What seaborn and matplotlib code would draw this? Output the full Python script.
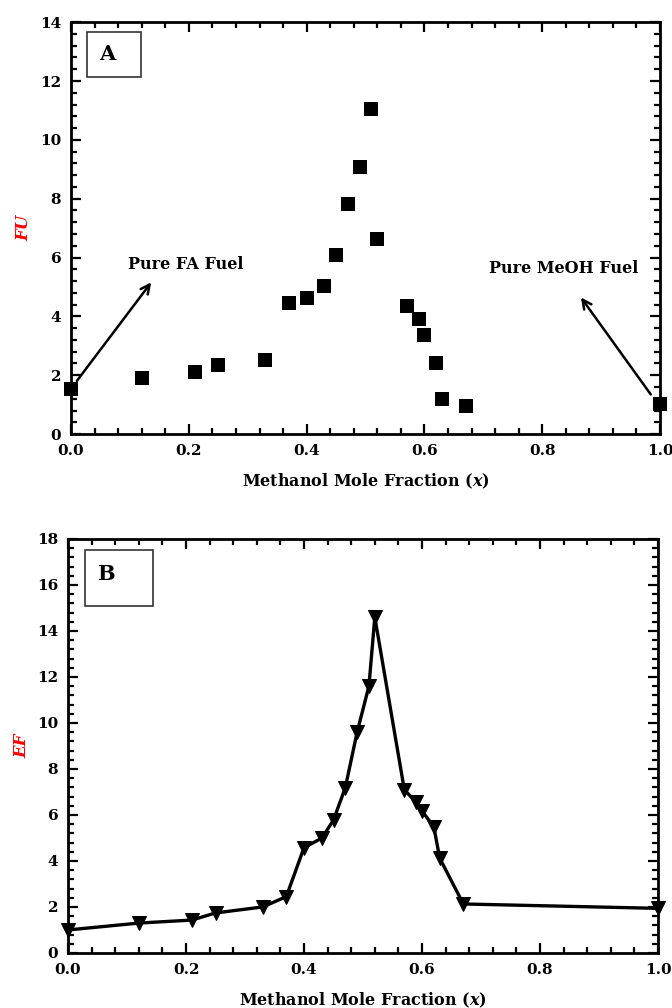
import matplotlib
matplotlib.use("Agg")
import matplotlib.pyplot as plt
import seaborn as sns
import pandas as pd
import numpy as np
from matplotlib.ticker import MultipleLocator, FormatStrFormatter
from matplotlib.patches import Rectangle

# ---- data ----
fu_x = [0.0, 0.12, 0.21, 0.25, 0.33, 0.37, 0.40, 0.43, 0.45, 0.47, 0.49, 0.51,
        0.52, 0.57, 0.59, 0.60, 0.62, 0.63, 0.67, 1.0]
fu_y = [1.53, 1.90, 2.11, 2.34, 2.51, 4.45, 4.62, 5.03, 6.08, 7.81, 9.07, 11.04,
        6.63, 4.35, 3.91, 3.36, 2.41, 1.19, 0.95, 1.02]

ef_x = [0.0, 0.12, 0.21, 0.25, 0.33, 0.37, 0.40, 0.43, 0.45, 0.47, 0.49, 0.51,
        0.52, 0.57, 0.59, 0.60, 0.62, 0.63, 0.67, 1.0]
ef_y = [1.0, 1.3, 1.43, 1.74, 2.0, 2.45, 4.58, 4.99, 5.78, 7.19, 9.6, 11.6,
        14.6, 7.1, 6.55, 6.17, 5.49, 4.12, 2.13, 1.94]

x_ticks = [0.0, 0.2, 0.4, 0.6, 0.8, 1.0]
fu_ticks = [0, 2, 4, 6, 8, 10, 12, 14]
ef_ticks = [0, 2, 4, 6, 8, 10, 12, 14, 16, 18]

sns.set_theme(style="ticks")
plt.rcParams['font.family'] = ['DejaVu Serif']
plt.rcParams['font.weight'] = 'bold'
plt.rcParams['text.color'] = 'black'
plt.rcParams['axes.labelcolor'] = 'black'
plt.rcParams['xtick.color'] = 'black'
plt.rcParams['ytick.color'] = 'black'
plt.rcParams['mathtext.fontset'] = 'custom'
plt.rcParams['mathtext.it'] = 'DejaVu Serif:italic:bold'
plt.rcParams['mathtext.rm'] = 'DejaVu Serif:bold'

fig = plt.figure(figsize=(6.72, 10.08), dpi=100)
ax1 = fig.add_axes([0.1057, 0.5694, 0.8765, 0.4086])
ax2 = fig.add_axes([0.1012, 0.0546, 0.8780, 0.4107])

df1 = pd.DataFrame({"x": fu_x, "y": fu_y})
df2 = pd.DataFrame({"x": ef_x, "y": ef_y})

sns.scatterplot(data=df1, x="x", y="y", ax=ax1, marker="s", s=110, color="black",
                edgecolor="black", linewidth=0, zorder=5, clip_on=False)
sns.lineplot(data=df2, x="x", y="y", ax=ax2, marker="v", markersize=10, color="black",
             linewidth=2.4, markeredgecolor="black", zorder=5, clip_on=False)

for ax, ticks, ymax, lab, lx in [(ax1, fu_ticks, 14, "FU", -0.066), (ax2, ef_ticks, 18, "EF", -0.064)]:
    ax.set_xlim(0, 1.0)
    ax.set_ylim(0, ymax)
    ax.set_xticks(x_ticks)
    ax.set_yticks(ticks)
    ax.xaxis.set_major_formatter(FormatStrFormatter("%.1f"))
    ax.xaxis.set_minor_locator(MultipleLocator(0.04))
    ax.yaxis.set_minor_locator(MultipleLocator(0.4))
    ax.tick_params(which="both", direction="in", top=True, right=True, width=1.6,
                   color="black", labelcolor="black")
    ax.tick_params(which="major", length=7, labelsize=11, pad=7)
    ax.tick_params(which="minor", length=4.5)
    for lbl in ax.get_xticklabels() + ax.get_yticklabels():
        lbl.set_fontweight("bold")
    for sp in ax.spines.values():
        sp.set_linewidth(2)
        sp.set_color("black")
    ax.set_xlabel("Methanol Mole Fraction ($\\mathit{x}$)", fontsize=11.5, fontweight="bold",
                  labelpad=10)
    ax.set_ylabel(lab, fontsize=12, fontweight="bold", fontstyle="italic", color="red")
    ax.yaxis.set_label_coords(lx, 0.5)

# panel boxes
ax1.add_patch(Rectangle((0.027, 0.867), 0.092, 0.109, transform=ax1.transAxes,
                        fill=False, edgecolor="#333333", linewidth=1.2))
ax1.text(0.061, 0.922, "A", transform=ax1.transAxes, ha="center", va="center",
         fontsize=15, fontweight="bold")
ax2.add_patch(Rectangle((0.028, 0.839), 0.116, 0.134, transform=ax2.transAxes,
                        fill=False, edgecolor="#333333", linewidth=1.2))
ax2.text(0.064, 0.915, "B", transform=ax2.transAxes, ha="center", va="center",
         fontsize=15, fontweight="bold")

# annotations
ax1.annotate("", xy=(0.139, 5.23), xytext=(0.007, 1.73),
             arrowprops=dict(arrowstyle="->", color="black", lw=1.8, mutation_scale=16))
ax1.text(0.097, 5.78, "Pure FA Fuel", fontsize=11.5, fontweight="bold", ha="left", va="center")
ax1.annotate("", xy=(0.863, 4.72), xytext=(0.987, 1.27),
             arrowprops=dict(arrowstyle="->", color="black", lw=1.8, mutation_scale=16))
ax1.text(0.71, 5.64, "Pure MeOH Fuel", fontsize=11.5, fontweight="bold", ha="left", va="center")

fig.savefig("out.png", dpi=100)
